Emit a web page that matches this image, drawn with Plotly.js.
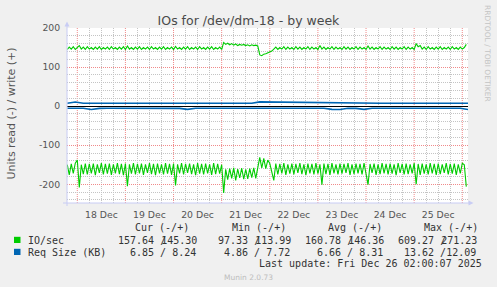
<!DOCTYPE html>
<html><head><meta charset="utf-8">
<script src="https://cdn.plot.ly/plotly-3.0.1.min.js"></script>
<style>html,body{margin:0;padding:0;background:#F0F0F0;overflow:hidden}#chart{width:497px;height:287px}</style>
</head><body><div id="chart"></div>
<script>
// ---------- data ----------
const seriesStart = "2025-12-17T19:00:00Z";   // first sample
const ioStepHours = 1;                          // IO/sec sample step
const reqStepHours = 4;                         // Req Size sample step

const ioWrite = [
145,151,146,152,145,150,155,146,151,145,
152,146,150,145,151,146,152,145,150,146,
151,145,152,146,150,145,151,146,152,145,
154,146,150,145,151,146,152,145,150,146,
151,145,152,146,150,145,151,146,152,145,
150,146,151,145,153,146,150,145,151,146,
152,145,150,146,151,145,152,146,150,145,
151,146,152,145,150,146,151,145,163,158,
161,157,160,156,159,155,158,156,158,155,
157,154,157,155,156,154,131,129,133,134,
136,138,141,146,151,145,150,146,152,145,
151,146,150,145,152,146,151,145,150,146,
152,145,151,146,150,145,155,146,151,145,
150,146,152,145,151,146,150,145,152,146,
151,145,150,146,152,145,151,146,150,145,
154,146,151,145,150,146,152,145,151,146,
150,145,152,146,151,145,150,146,152,145,
151,146,150,145,160,152,155,146,151,145,
152,146,150,145,151,146,152,145,150,146,
151,145,152,146,150,145,151,146,150,158];

const ioRead = [
-150,-176,-148,-172,-146,-138,-208,-150,-174,-147,
-175,-148,-172,-147,-177,-149,-171,-146,-175,-148,
-173,-147,-176,-149,-172,-146,-174,-148,-177,-147,
-205,-149,-173,-146,-175,-148,-172,-147,-176,-149,
-171,-146,-174,-148,-177,-147,-172,-149,-175,-146,
-173,-148,-176,-147,-203,-149,-172,-146,-175,-148,
-171,-147,-174,-149,-177,-146,-173,-148,-175,-147,
-172,-149,-176,-146,-174,-148,-173,-150,-222,-162,
-188,-160,-185,-158,-190,-161,-184,-159,-187,-162,
-186,-160,-183,-158,-185,-159,-131,-158,-134,-160,
-138,-147,-170,-190,-147,-175,-148,-172,-146,-176,
-149,-173,-147,-175,-148,-171,-146,-174,-149,-177,
-147,-172,-148,-175,-146,-173,-149,-201,-147,-174,
-148,-176,-146,-172,-149,-175,-147,-173,-148,-171,
-146,-176,-149,-174,-147,-172,-148,-175,-146,-173,
-201,-148,-171,-147,-176,-149,-174,-146,-172,-148,
-175,-147,-173,-149,-177,-146,-171,-148,-175,-147,
-174,-149,-172,-146,-200,-148,-176,-147,-173,-149,
-175,-146,-172,-148,-176,-147,-174,-149,-171,-146,
-175,-148,-173,-147,-176,-149,-172,-146,-150,-206];

const reqWrite = [
7.4,10.6,7.3,7.2,7.4,7.3,7.2,7.4,7.3,7.2,
7.3,7.4,7.2,7.3,7.4,7.2,7.3,7.4,7.3,7.2,
7.3,7.4,7.3,7.2,10.9,10.6,10.2,9.0,9.8,8.6,
9.4,8.4,7.6,7.3,7.4,7.2,7.3,7.4,7.3,7.2,
7.4,7.3,7.2,7.4,7.3,7.2,7.4,7.3,7.2,7.3,7.2];

const reqRead = [
-5.6,-5.7,-5.6,-8.6,-5.7,-5.6,-5.5,-5.6,-5.7,-5.6,
-5.7,-5.6,-5.5,-5.6,-5.7,-8.4,-5.6,-5.5,-5.7,-5.6,
-5.6,-5.7,-5.5,-5.6,-5.7,-5.6,-5.5,-5.6,-5.7,-5.6,
-5.7,-5.6,-5.6,-8.2,-8.5,-5.6,-5.7,-8.4,-5.6,-5.5,
-5.6,-5.7,-5.5,-5.6,-5.7,-5.6,-5.5,-5.6,-5.7,-5.6,-8.8];

const legendHeaders = ["Cur (-/+)", "Min (-/+)", "Avg (-/+)", "Max (-/+)"];
const ioFirst  = ["157.64", "97.33", "160.78", "609.27"];
const ioSecond = ["145.30", "113.99", "146.36", "271.23"];
const reqCells = ["6.85 / 8.24", "4.86 / 7.72", "6.66 / 8.31", "13.62 /12.09"];
const seriesNames = ["IO/sec", "Req Size (KB)"];
const yTickVals = [-200, -100, 0, 100, 200];
const yTickText = ["-200", "-100", "0", "100", "200"];
const titleText = "IOs for /dev/dm-18 - by week";
const yTitle = "Units read (-) / write (+)";
const lastUpdate = "Last update: Fri Dec 26 02:00:07 2025";

// ---------- helpers ----------
const fmt = ms => new Date(ms).toISOString().slice(0, 16).replace('T', ' ');
function timeAxis(n, stepH) {
  const t0 = Date.parse(seriesStart);
  const out = [];
  for (let i = 0; i < n; i++) out.push(fmt(t0 + i * stepH * 3600e3));
  return out;
}
const tIO = timeAxis(ioWrite.length, ioStepHours);
const tReq = timeAxis(reqWrite.length, reqStepHours);

// grid positions: gray every 6 h / 20 units, red at midnight / every 100
const minorX = [], dayLines = [];
{
  const d0 = Date.UTC(2025, 11, 17, 0);
  for (let h = 0; h <= 10 * 24; h += 6) {
    if (h % 24 !== 0) minorX.push(fmt(d0 + h * 3600e3));
    else dayLines.push(fmt(d0 + h * 3600e3));
  }
}
const minorY = [];
for (let v = -240; v <= 200; v += 20) if (v % 100 !== 0) minorY.push(v);

const GREEN = '#00CC00', BLUE = '#0066B3';
const L = 67, R = 468, T = 28, B = 203, W = R - L, H = B - T;
const px = x => (x - L) / W;
const py = y => (B - y) / H;
const xRange = ['2025-12-17 18:52', '2025-12-26 02:51'];

const traces = [
  {x: tIO, y: ioRead, mode: 'lines', line: {color: GREEN, width: 1.1}, hoverinfo: 'skip'},
  {x: tIO, y: ioWrite, mode: 'lines', line: {color: GREEN, width: 1.1}, hoverinfo: 'skip'},
  {x: tReq, y: reqRead, mode: 'lines', line: {color: BLUE, width: 1.6}, hoverinfo: 'skip'},
  {x: tReq, y: reqWrite, mode: 'lines', line: {color: BLUE, width: 1.6}, hoverinfo: 'skip'}
];

const mono = {family: 'DejaVu Sans Mono', size: 10, color: '#333'};
const ann = [];
function addText(text, x, y, anchor, font, extra) {
  ann.push(Object.assign({text: text, x: px(x), y: py(y), xref: 'paper', yref: 'paper',
    xanchor: anchor, yanchor: 'middle', showarrow: false, font: font, borderpad: 0}, extra || {}));
}
addText(yTitle, 11, 113.5, 'center', {family: 'DejaVu Sans', size: 11, color: '#555'}, {textangle: -90});
addText("RRDTOOL / TOBI OETIKER", 487.5, 53.5, 'center', {family: 'DejaVu Sans', size: 7.5, color: '#c4c4c4'}, {textangle: 90});
const headerX = [134, 231, 327.3, 422.7];
legendHeaders.forEach((h, i) => addText(h, headerX[i], 227.5, 'left', mono));
const colEnd = [197.8, 291.8, 384.6, 477.8];
addText(seriesNames[0], 26.5, 240, 'left', mono);
addText(seriesNames[1], 26.5, 252, 'left', mono);
ioFirst.forEach((v, i) => {
  // the "/" is squeezed so it lands on the next digit, as in the reference
  addText(v + ' <span style="letter-spacing:-5px">/</span>' + ioSecond[i], colEnd[i], 240, 'right', mono);
});
reqCells.forEach((v, i) => addText(v, colEnd[i] - 0.4, 252, 'right', mono));
addText(lastUpdate, 482.6, 263.5, 'right', mono);
addText("Munin 2.0.73", 248, 277, 'center', {family: 'DejaVu Sans', size: 7.5, color: '#bdbdbd'});

const majorGrid = '#F08A8A';
const minorGrid = '#C4C4C4';
const axisCol = '#C8CCF4';
const shapes = dayLines.map(d => ({type: 'line', layer: 'below', xref: 'x', yref: 'paper', x0: d, x1: d, y0: 0, y1: 1,
  line: {color: majorGrid, width: 1, dash: '1px,1px'}}));
shapes.push(
  {type: 'line', xref: 'paper', yref: 'paper', x0: px(67), x1: px(67), y0: py(206), y1: py(25), line: {color: axisCol, width: 1}},
  {type: 'line', xref: 'paper', yref: 'paper', x0: px(63), x1: px(470), y0: py(203), y1: py(203), line: {color: axisCol, width: 1}},
  {type: 'path', xref: 'paper', yref: 'paper', fillcolor: axisCol, line: {width: 0},
   path: `M ${px(64.5)} ${py(26.5)} L ${px(69.5)} ${py(26.5)} L ${px(67)} ${py(21.5)} Z`},
  {type: 'path', xref: 'paper', yref: 'paper', fillcolor: axisCol, line: {width: 0},
   path: `M ${px(468.5)} ${py(200.5)} L ${px(468.5)} ${py(205.5)} L ${px(473.5)} ${py(203)} Z`},
  {type: 'rect', xref: 'paper', yref: 'paper', x0: px(14), x1: px(20.5), y0: py(243), y1: py(236.8), fillcolor: GREEN, line: {width: 0}},
  {type: 'rect', xref: 'paper', yref: 'paper', x0: px(14), x1: px(20.5), y0: py(255), y1: py(248.8), fillcolor: BLUE, line: {width: 0}}
);

const tickFont = {family: 'DejaVu Sans', size: 9.3, color: '#555'};

const layout = {
  width: 497, height: 287,
  margin: {l: L, r: 497 - R, t: T, b: 287 - B, pad: 0},
  paper_bgcolor: '#F0F0F0', plot_bgcolor: '#FFFFFF',
  showlegend: false,
  title: {text: titleText, font: {family: 'DejaVu Sans', size: 12.5, color: '#4a4a4a'},
          x: 0.5, xref: 'container', xanchor: 'center', y: 1 - 20.5 / 287, yref: 'container', yanchor: 'middle'},
  xaxis: {
    type: 'date', range: xRange,
    tick0: '2025-12-17 12:00', dtick: 86400000, tickformat: '%d %b',
    ticks: 'outside', ticklen: 3, tickcolor: 'rgba(0,0,0,0)', tickfont: tickFont,
    showgrid: false,
    minor: {tickmode: 'array', tickvals: minorX, showgrid: true, gridcolor: minorGrid, griddash: '1px,1px', gridwidth: 1},
    showline: false, zeroline: false, fixedrange: true
  },
  yaxis: {
    range: [-248, 200], tickmode: 'array', tickvals: yTickVals, ticktext: yTickText,
    ticks: 'outside', ticklen: 4, tickcolor: 'rgba(0,0,0,0)', tickfont: tickFont,
    showgrid: true, gridcolor: majorGrid, griddash: '1px,1px', gridwidth: 1,
    minor: {tickmode: 'array', tickvals: minorY, showgrid: true, gridcolor: minorGrid, griddash: '1px,1px', gridwidth: 1},
    zeroline: true, zerolinecolor: '#000000', zerolinewidth: 1,
    showline: false, fixedrange: true
  },
  annotations: ann,
  shapes: shapes
};

Plotly.newPlot('chart', traces, layout, {staticPlot: true, displayModeBar: false});
</script></body></html>
